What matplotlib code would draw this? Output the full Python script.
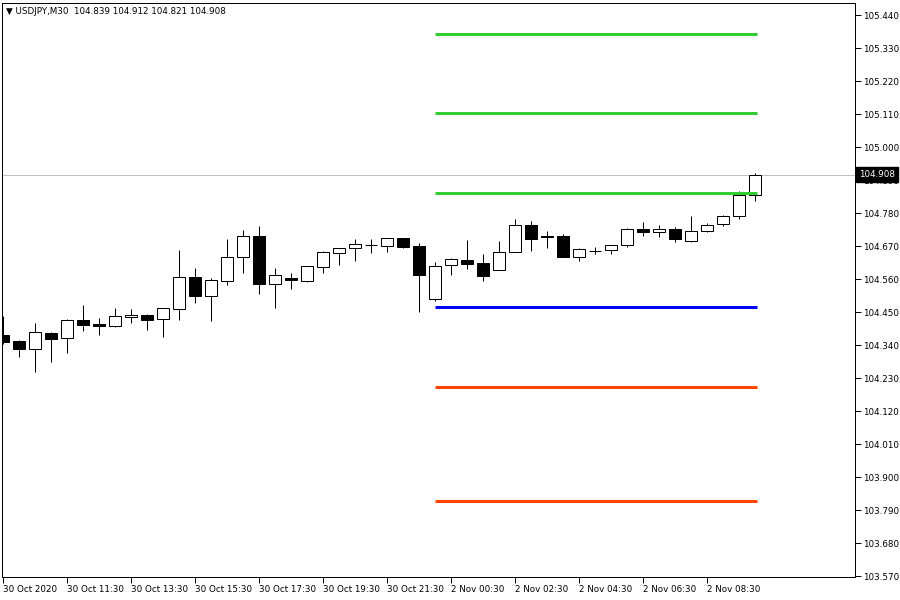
import matplotlib
matplotlib.use("Agg")
import matplotlib.pyplot as plt

# ---------------- data ----------------
symbol_title = "\u25BC USDJPY,M30  104.839 104.912 104.821 104.908"
opens = [104.373, 104.353, 104.327, 104.380, 104.363, 104.423, 104.410, 104.403, 104.433, 104.440,
         104.427, 104.460, 104.567, 104.503, 104.553, 104.633, 104.703, 104.543, 104.563, 104.553,
         104.600, 104.647, 104.663, 104.675, 104.670, 104.697, 104.670, 104.493, 104.607, 104.623,
         104.613, 104.590, 104.650, 104.740, 104.703, 104.703, 104.633, 104.655, 104.657, 104.673,
         104.727, 104.717, 104.727, 104.687, 104.720, 104.743, 104.770, 104.839]
highs = [104.437, 104.357, 104.413, 104.383, 104.427, 104.473, 104.430, 104.463, 104.460, 104.443,
         104.463, 104.657, 104.597, 104.563, 104.693, 104.723, 104.737, 104.597, 104.580, 104.603,
         104.653, 104.663, 104.693, 104.693, 104.697, 104.697, 104.680, 104.617, 104.630, 104.690,
         104.643, 104.687, 104.760, 104.753, 104.720, 104.710, 104.663, 104.667, 104.673, 104.730,
         104.750, 104.740, 104.733, 104.770, 104.747, 104.773, 104.853, 104.912]
lows = [104.343, 104.300, 104.250, 104.283, 104.313, 104.387, 104.373, 104.400, 104.413, 104.390,
        104.367, 104.423, 104.480, 104.420, 104.540, 104.580, 104.510, 104.463, 104.527, 104.550,
        104.580, 104.607, 104.620, 104.648, 104.650, 104.663, 104.450, 104.487, 104.573, 104.593,
        104.553, 104.590, 104.650, 104.653, 104.663, 104.633, 104.620, 104.643, 104.643, 104.667,
        104.703, 104.700, 104.683, 104.683, 104.717, 104.737, 104.760, 104.821]
closes = [104.350, 104.327, 104.383, 104.360, 104.423, 104.407, 104.403, 104.437, 104.440, 104.423,
          104.463, 104.567, 104.503, 104.557, 104.633, 104.703, 104.543, 104.573, 104.557, 104.603,
          104.650, 104.663, 104.677, 104.675, 104.697, 104.667, 104.573, 104.603, 104.627, 104.610,
          104.570, 104.650, 104.740, 104.693, 104.700, 104.633, 104.660, 104.655, 104.673, 104.727,
          104.717, 104.727, 104.693, 104.720, 104.740, 104.770, 104.840, 104.908]
bid_price = 104.908

pivot_levels = [105.377, 105.113, 104.846, 104.467, 104.200, 103.820]
pivot_colors = ["#32CD32", "#32CD32", "#32CD32", "#0000FF", "#FF4500", "#FF4500"]
pivot_start_bar = 27
pivot_end_bar = 47

x_tick_bars = [0, 4, 8, 12, 16, 20, 24, 28, 32, 36, 40, 44]
x_tick_labels = ["30 Oct 2020", "30 Oct 11:30", "30 Oct 13:30", "30 Oct 15:30", "30 Oct 17:30",
                 "30 Oct 19:30", "30 Oct 21:30", "2 Nov 00:30", "2 Nov 02:30", "2 Nov 04:30",
                 "2 Nov 06:30", "2 Nov 08:30"]
y_ticks = [105.440, 105.330, 105.220, 105.110, 105.000, 104.890, 104.780, 104.670, 104.560,
           104.450, 104.340, 104.230, 104.120, 104.010, 103.900, 103.790, 103.680, 103.570]

# ---------------- figure ----------------
W, H = 900, 600
fig = plt.figure(figsize=(9, 6), dpi=100)
L, R, T, B = 2, 855, 3, 577
ax = fig.add_axes([L / W, 1 - B / H, (R - L) / W, (B - T) / H])
ax.set_facecolor("white")

ax.set_xlim(-0.0625, 53.25)
ax.set_ylim(103.5667, 105.48)

px = 0.72  # one pixel in points
n = len(opens)
xs = list(range(n))

# wicks
ax.vlines(xs, lows, highs, colors="black", linewidth=px, zorder=2)
# bodies
bottoms = [min(o, c) for o, c in zip(opens, closes)]
heights = [abs(c - o) for o, c in zip(opens, closes)]
faces = ["white" if c >= o else "black" for o, c in zip(opens, closes)]
ax.bar(xs, heights, bottom=bottoms, width=0.69, color=faces, edgecolor="black",
       linewidth=px, zorder=3)

# bid line
ax.axhline(bid_price, color="#C0C0C0", linewidth=px, zorder=1)

# pivot lines
for lvl, col in zip(pivot_levels, pivot_colors):
    ax.hlines(lvl, pivot_start_bar, pivot_end_bar + 0.1, colors=col, linewidth=3 * px, zorder=4)

# spines
for s in ax.spines.values():
    s.set_color("black")
    s.set_linewidth(px)

# ticks
ax.set_xticks(x_tick_bars)
ax.set_xticklabels(x_tick_labels, ha="left", fontsize=6.3, family="DejaVu Sans")
ax.tick_params(axis="x", direction="out", length=4, width=px, pad=2, colors="black")
ax.yaxis.tick_right()
ax.set_yticks(y_ticks)
ax.set_yticklabels([f"{v:.3f}" for v in y_ticks], fontsize=6.3, family="DejaVu Sans")
ax.tick_params(axis="y", direction="out", length=4, width=px, pad=2, colors="black")

# bid label (overlaps the 104.890 tick label, as in the reference)
ax.text(1.0 + 4 / (R - L), bid_price, f"{bid_price:.3f}", transform=ax.get_yaxis_transform(),
        ha="left", va="center", fontsize=6.3, color="white", zorder=10, clip_on=False,
        bbox=dict(boxstyle="square,pad=0.3", facecolor="black", edgecolor="black"))

# title
fig.text(6 / W, 1 - 11 / H, symbol_title, ha="left", va="center", fontsize=6.3, color="black",
         family="DejaVu Sans")

fig.savefig("out.png", dpi=100, facecolor="white")
